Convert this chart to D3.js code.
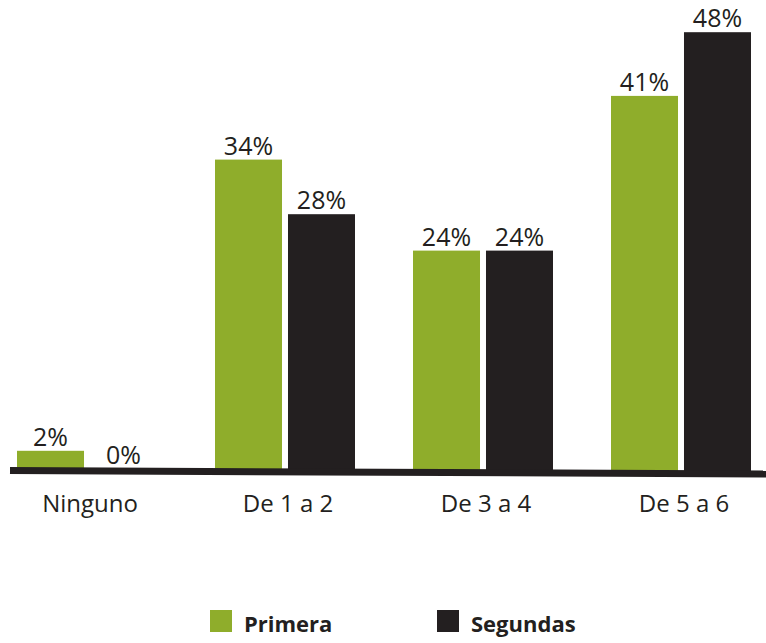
<!DOCTYPE html>
<html>
<head>
<meta charset="utf-8">
<script src="https://cdn.jsdelivr.net/npm/d3@7"></script>
<style>
  body { margin: 0; background: #fff; }
  text { font-family: "Open Sans", sans-serif; fill: #231f20; }
</style>
</head>
<body>
<svg id="chart" width="766" height="643"></svg>
<script>
const categories = ['Ninguno', 'De 1 a 2', 'De 3 a 4', 'De 5 a 6']
const seriesNames = ['Primera', 'Segundas']
const primera = [2, 34, 24, 41]
const segundas = [0, 28, 24, 48]
const colors = ['#8fad2b', '#231f20']

const svg = d3.select('#chart')
const values = [primera, segundas]

// Group scale and inner series scale
const x0 = d3.scaleBand()
  .domain(categories)
  .range([-12, 780])
  .paddingInner(0.293)
  .paddingOuter(0.1465)
const x1 = d3.scaleBand()
  .domain(seriesNames)
  .range([0, x0.bandwidth()])
  .paddingInner(0.082)
const y = d3.scaleLinear().domain([0, 50]).range([469, 14])

const rows = []
categories.forEach(function (c, i) {
  seriesNames.forEach(function (s, j) {
    rows.push({ cat: c, series: s, value: values[j][i], color: colors[j] })
  })
})

const g = svg.append('g')

// Bars
g.selectAll('rect.bar')
  .data(rows)
  .enter().append('rect')
  .attr('class', 'bar')
  .attr('x', function (d) { return x0(d.cat) + x1(d.series) })
  .attr('y', function (d) { return y(d.value) })
  .attr('width', x1.bandwidth())
  .attr('height', function (d) { return y(0) - y(d.value) + 3 })
  .attr('fill', function (d) { return d.color })

// Value labels
g.selectAll('text.value')
  .data(rows)
  .enter().append('text')
  .attr('class', 'value')
  .attr('x', function (d) { return x0(d.cat) + x1(d.series) + x1.bandwidth() / 2 })
  .attr('y', function (d) { return y(d.value) - 5 })
  .attr('text-anchor', 'middle')
  .style('font-size', '25px')
  .text(function (d) { return d.value + '%' })

// Baseline (slightly tilted, as in the original)
g.append('line')
  .attr('x1', 10).attr('y1', y(0) + 1.5)
  .attr('x2', 766).attr('y2', y(0) + 5)
  .attr('stroke', '#231f20')
  .attr('stroke-width', 7)

// Category labels
const xAxis = g.append('g')
  .attr('transform', `translate(0, ${y(0)})`)
  .call(d3.axisBottom(x0).tickSize(0).tickPadding(0))
xAxis.select('.domain').remove()
xAxis.selectAll('text')
  .attr('y', 43)
  .attr('dy', 0)
  .attr('dx', 3)
  .style('font-size', '24px')
  .style('font-family', '"Open Sans", sans-serif')
  .attr('fill', '#231f20')

// Legend
const legendX = d3.scalePoint().domain(seriesNames).range([210, 437])
const legend = svg.append('g')
  .selectAll('g')
  .data(seriesNames)
  .enter().append('g')
  .attr('transform', function (d) { return `translate(${legendX(d)}, 610)` })
legend.append('rect')
  .attr('width', 22).attr('height', 22)
  .attr('fill', function (d, i) { return colors[i] })
legend.append('text')
  .attr('x', 34).attr('y', 22)
  .style('font-size', '22px')
  .style('font-weight', 'bold')
  .text(function (d) { return d })
</script>
</body>
</html>
